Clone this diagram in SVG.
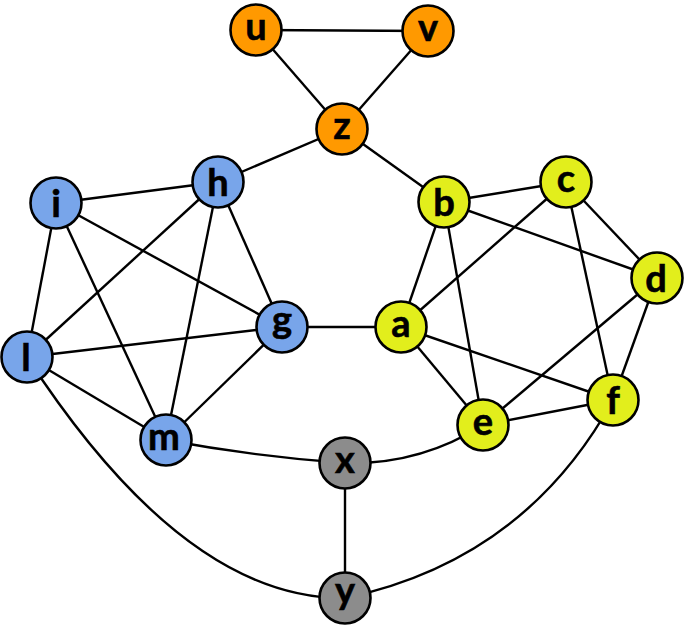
<svg xmlns="http://www.w3.org/2000/svg" width="685" height="625" viewBox="0 0 685 625">
<style>
.e{stroke:#000;stroke-width:2.4;fill:none}
.n circle{stroke:#000;stroke-width:2.6}
.o circle{fill:#FF9900}
.b circle{fill:#78A5EA}
.y circle{fill:#E2EE1C}
.g circle{fill:#8C8C8C}
text{font-family:Lato,"Open Sans","DejaVu Sans",sans-serif;font-weight:bold;font-size:38px;text-anchor:middle;fill:#000;stroke:#000;stroke-width:0.6}
</style>
<rect width="685" height="625" fill="#fff"/>
<g id="edges">
<line class="e" x1="256" y1="30" x2="428" y2="31"/>
<line class="e" x1="256" y1="30" x2="342" y2="129"/>
<line class="e" x1="428" y1="31" x2="342" y2="129"/>
<line class="e" x1="342" y1="129" x2="218" y2="182"/>
<line class="e" x1="342" y1="129" x2="444" y2="202"/>
<line class="e" x1="218" y1="182" x2="56" y2="203"/>
<line class="e" x1="218" y1="182" x2="27" y2="357"/>
<line class="e" x1="218" y1="182" x2="166" y2="440"/>
<line class="e" x1="218" y1="182" x2="282" y2="327"/>
<line class="e" x1="56" y1="203" x2="282" y2="327"/>
<line class="e" x1="56" y1="203" x2="27" y2="357"/>
<line class="e" x1="56" y1="203" x2="166" y2="440"/>
<line class="e" x1="27" y1="357" x2="282" y2="327"/>
<line class="e" x1="27" y1="357" x2="166" y2="440"/>
<line class="e" x1="282" y1="327" x2="166" y2="440"/>
<line class="e" x1="282" y1="327" x2="401" y2="327"/>
<line class="e" x1="444" y1="202" x2="566" y2="182"/>
<line class="e" x1="444" y1="202" x2="657" y2="278"/>
<line class="e" x1="444" y1="202" x2="401" y2="327"/>
<line class="e" x1="444" y1="202" x2="483" y2="425"/>
<line class="e" x1="566" y1="182" x2="401" y2="327"/>
<line class="e" x1="566" y1="182" x2="657" y2="278"/>
<line class="e" x1="566" y1="182" x2="613" y2="400"/>
<line class="e" x1="657" y1="278" x2="483" y2="425"/>
<line class="e" x1="657" y1="278" x2="613" y2="400"/>
<line class="e" x1="401" y1="327" x2="483" y2="425"/>
<line class="e" x1="401" y1="327" x2="613" y2="400"/>
<line class="e" x1="483" y1="425" x2="613" y2="400"/>
<path class="e" d="M166,440 Q258,457 345,463"/>
<path class="e" d="M345,463 Q420,465 483,425"/>
<line class="e" x1="345" y1="463" x2="345" y2="598"/>
<path class="e" d="M27,357 Q185,600 345,598"/>
<path class="e" d="M613,400 Q525,560 345,598"/>
</g>
<g id="node-u" class="n o"><circle cx="256" cy="30" r="25.5"/><text x="256" y="39.5">u</text></g>
<g id="node-v" class="n o"><circle cx="428" cy="31" r="25.5"/><text x="428" y="40.5">v</text></g>
<g id="node-z" class="n o"><circle cx="342" cy="129" r="25.5"/><text x="342" y="138.5">z</text></g>
<g id="node-h" class="n b"><circle cx="218" cy="182" r="25.5"/><text x="218" y="195.5">h</text></g>
<g id="node-i" class="n b"><circle cx="56" cy="203" r="25.5"/><text x="56" y="217">i</text></g>
<g id="node-g" class="n b"><circle cx="282" cy="327" r="25.5"/><text x="282" y="333">g</text></g>
<g id="node-l" class="n b"><circle cx="27" cy="357" r="25.5"/><text x="26" y="370.5">l</text></g>
<g id="node-m" class="n b"><circle cx="166" cy="440" r="25.5"/><text x="164" y="449.5">m</text></g>
<g id="node-b" class="n y"><circle cx="444" cy="202" r="25.5"/><text x="444" y="215.5">b</text></g>
<g id="node-c" class="n y"><circle cx="566" cy="182" r="25.5"/><text x="566" y="191.5">c</text></g>
<g id="node-d" class="n y"><circle cx="657" cy="278" r="25.5"/><text x="656" y="291.5">d</text></g>
<g id="node-a" class="n y"><circle cx="401" cy="327" r="25.5"/><text x="401" y="336.5">a</text></g>
<g id="node-f" class="n y"><circle cx="613" cy="400" r="25.5"/><text x="613" y="413.5">f</text></g>
<g id="node-e" class="n y"><circle cx="483" cy="425" r="25.5"/><text x="483" y="434.5">e</text></g>
<g id="node-x" class="n g"><circle cx="345" cy="463" r="25.5"/><text x="345" y="472.5">x</text></g>
<g id="node-y" class="n g"><circle cx="345" cy="598" r="25.5"/><text x="345" y="604">y</text></g>
</svg>
